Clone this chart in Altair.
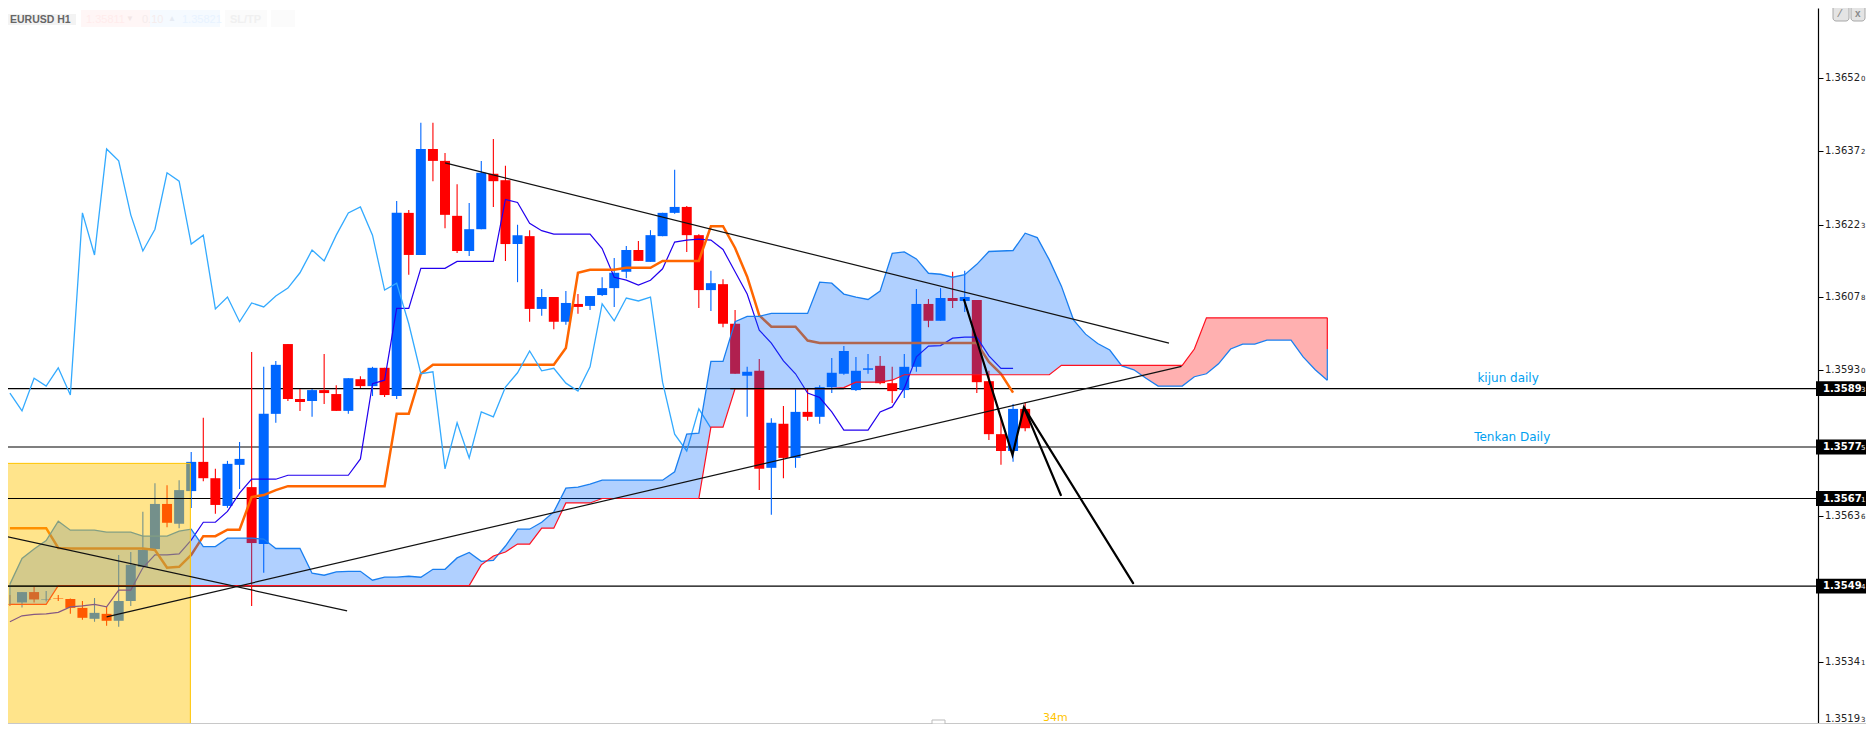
import altair as alt
import pandas as pd

# All price series are in points above 1.00000 (36520 = 1.36520)
opens = [35458,35461,35482,35466,35470,35468,35450,35428,35438,35424,35464,35533,35569,35660,35620,35686,35745,35712,35656,35739,35694,35579,35842,35983,35872,35868,35890,35882,35848,35912,35898,35935,35878,36248,36163,36377,36353,36242,36171,36215,36327,36314,36185,36201,36054,36078,36028,36064,36060,36082,36096,36129,36173,36149,36201,36248,36260,36203,36092,36104,36024,35919,35929,35733,35822,35753,35846,35836,35896,35923,35890,35931,35939,35904,35890,35937,36064,36030,36076,36070,36072,35908,35801,35767,35852]
highs = [35476,35482,35492,35484,35476,35469,35464,35470,35452,35557,35563,35644,35702,35698,35708,35765,35834,35731,35747,35785,35967,35937,35949,35983,35892,35892,35963,35900,35914,35918,35937,35935,36272,36254,36430,36430,36369,36306,36268,36353,36397,36343,36224,36213,36094,36078,36090,36084,36080,36118,36157,36181,36191,36213,36248,36335,36262,36205,36131,36114,36052,35937,35953,35833,35858,35892,35892,35900,35955,35979,35957,35963,35959,35937,35963,36094,36074,36096,36129,36131,36072,35929,35836,35862,35866]
lows = [35454,35451,35461,35463,35464,35438,35426,35422,35414,35412,35454,35533,35569,35613,35611,35652,35706,35640,35652,35690,35454,35521,35824,35868,35848,35836,35862,35848,35842,35894,35878,35876,35872,36123,36163,36312,36217,36167,36161,36215,36260,36151,36108,36028,36040,36013,36022,36044,36052,36080,36058,36116,36151,36149,36201,36246,36169,36056,36050,36017,35923,35836,35688,35638,35712,35733,35828,35822,35884,35921,35888,35923,35902,35864,35874,35927,36017,36030,36056,36048,35884,35789,35739,35745,35807]
closes = [35457,35482,35467,35467,35469,35450,35430,35440,35424,35464,35537,35567,35660,35622,35688,35745,35712,35658,35741,35751,35581,35842,35941,35872,35866,35890,35884,35848,35914,35898,35935,35880,36248,36163,36377,36353,36244,36171,36215,36329,36312,36185,36203,36054,36078,36028,36066,36058,36080,36096,36127,36173,36151,36203,36248,36260,36203,36092,36106,36024,35923,35927,35731,35824,35753,35846,35836,35896,35925,35969,35929,35934,35904,35888,35937,36064,36030,36076,36070,36078,35906,35801,35767,35852,35813]

tenkan = [35422,35434,35437,35438,35441,35452,35454,35457,35452,35486,35486,35531,35557,35557,35559,35587,35623,35623,35645,35682,35710,35710,35710,35718,35718,35718,35718,35718,35718,35751,35903,35910,36055,36055,36136,36136,36136,36150,36150,36150,36150,36275,36269,36227,36212,36205,36205,36205,36205,36176,36118,36112,36102,36112,36135,36189,36193,36195,36193,36174,36129,36084,36011,35985,35949,35923,35884,35875,35846,35809,35809,35809,35846,35856,35894,35957,35979,35980,35995,35997,35997,35959,35934,35934]
kijun = [35611,35611,35611,35611,35571,35570,35570,35570,35570,35570,35570,35570,35567,35531,35533,35557,35595,35595,35608,35608,35674,35678,35688,35696,35696,35696,35696,35696,35696,35696,35696,35696,35842,35842,35923,35941,35941,35941,35941,35941,35941,35941,35941,35941,35941,35941,35975,36127,36133,36133,36133,36137,36137,36137,36151,36151,36151,36151,36221,36221,36177,36119,36041,36018,36018,36018,35990,35985,35985,35985,35985,35985,35985,35985,35985,35985,35985,35985,35985,35985,35985,35947,35923,35885]
span_a = [35498,35550,35569,35586,35625,35607,35607,35607,35603,35603,35603,35595,35595,35595,35605,35609,35574,35574,35591,35591,35591,35589,35570,35570,35570,35520,35516,35523,35524,35524,35506,35512,35512,35514,35512,35528,35528,35551,35562,35544,35546,35575,35609,35609,35623,35644,35692,35694,35700,35708,35708,35708,35708,35708,35708,35725,35801,35803,35948,35948,36028,36039,36039,36045,36045,36045,36045,36108,36106,36084,36078,36073,36090,36166,36169,36155,36126,36124,36118,36123,36144,36170,36171,36172,36207,36198,36153,36100,36032,36003,35984,35971,35939,35931,35914,35898,35898,35898,35917,35923,35943,35973,35983,35983,35991,35991,35991,35957,35931,35910]
span_b = [35457,35457,35457,35457,35495,35495,35495,35495,35495,35495,35495,35495,35495,35495,35495,35495,35495,35495,35495,35495,35495,35495,35495,35495,35495,35495,35495,35495,35495,35495,35495,35495,35495,35495,35495,35495,35495,35495,35495,35537,35555,35563,35579,35579,35611,35611,35662,35662,35662,35671,35671,35671,35671,35671,35671,35671,35671,35671,35815,35815,35893,35893,35893,35893,35893,35893,35893,35893,35893,35895,35906,35906,35906,35910,35921,35921,35921,35921,35921,35921,35921,35921,35921,35921,35921,35921,35921,35940,35940,35940,35940,35940,35940,35940,35940,35940,35940,35940,35973,36036,36036,36036,36036,36036,36036,36036,36036,36036,36036,36036]

level_prices = [35893, 35775, 35671, 35494]
tick_prices = [36520, 36372, 36223, 36078, 35930, 35636, 35341, 35193]
tick_label_pos = [36520, 36372, 36223, 36078, 35930, 35636, 35341, 35226]

trend_1 = [(-1.6, 35596), (26.9, 35444)]
trend_2 = [(7.0, 35432), (95.94, 35938)]
trend_3 = [(35.0, 36349), (94.9, 35985)]
wave_1 = [(77.95, 36072), (81.95, 35759), (82.9, 35855), (85.95, 35678)]
wave_2 = [(82.9, 35855), (91.93, 35500)]
zone_x = [-1.3, 13.93]
zone_y = [35742, 35215.5]
flat_span = [58.6, 68.0]

BLUE = "#0066FF"
RED = "#FF0000"


def pr(v):
    return 1 + v / 1e5


xs = alt.Scale(domain=[-1.1585, 148.6], nice=False, zero=False, padding=0)
ys = alt.Scale(domain=[pr(35215.5), pr(36661.84)], nice=False, zero=False, padding=0)
y_axis = alt.Axis(
    orient="right", values=[pr(v) for v in tick_prices[:-1]], labels=False, title=None,
    grid=False, tickColor="#000000", domainColor="#000000", tickSize=5, tickWidth=1, domainWidth=1.2)
X = alt.X("i:Q", scale=xs, axis=None)
Y = alt.Y("p:Q", scale=ys, axis=y_axis, title=None)
Y2 = alt.Y2("p2:Q")


def series(values, start=-1):
    return pd.DataFrame({"i": [start + k for k in range(len(values))], "p": [pr(v) for v in values]})


def segs(points):
    return pd.DataFrame({"i": [a for a, _ in points], "p": [pr(b) for _, b in points]})


candles = pd.DataFrame({
    "i": list(range(-1, 84)),
    "p": [pr(max(o, c)) for o, c in zip(opens, closes)],
    "p2": [pr(min(o, c)) for o, c in zip(opens, closes)],
    "hi": [pr(v) for v in highs],
    "lo": [pr(v) for v in lows],
    "dir": ["up" if c >= o else "down" for o, c in zip(opens, closes)],
})
col = alt.Color("dir:N", scale=alt.Scale(domain=["up", "down"], range=[BLUE, RED]), legend=None)

# cloud with crossing points added so the two colours meet cleanly
rows = []
for k, (a, b) in enumerate(zip(span_a, span_b)):
    rows.append((k - 1.0, a, b))
    if k + 1 < len(span_a):
        a2, b2 = span_a[k + 1], span_b[k + 1]
        if (a - b) * (a2 - b2) < 0:
            t = (a - b) / ((a - b) - (a2 - b2))
            rows.append((k - 1 + t, a + t * (a2 - a), a + t * (a2 - a)))
cloud = pd.DataFrame({
    "i": [r[0] for r in rows],
    "a": [pr(r[1]) for r in rows],
    "b": [pr(r[2]) for r in rows],
    "m": [pr(min(r[1], r[2])) for r in rows],
})

levels = pd.DataFrame({"p": [pr(v) for v in level_prices]})
level_lines = alt.Chart(levels).mark_rule(color="#000000", strokeWidth=1.2).encode(
    y=Y, x=alt.value(-8), x2=alt.value(1810))
level_over_zone = alt.Chart(levels[levels["p"] < pr(zone_y[0])]).mark_rule(color="#000000", strokeWidth=1.2).encode(
    y=Y, x=alt.value(-8), x2=alt.value(183))
level_over_span = alt.Chart(pd.DataFrame({"i": [flat_span[0]], "i2": [flat_span[1]], "p": [pr(level_prices[0])]})).mark_rule(
    color="#000000", strokeWidth=1.2).encode(x=X, x2=alt.X2("i2:Q"), y=Y)

wicks = alt.Chart(candles).mark_rule(strokeWidth=1.1).encode(
    x=X, y=alt.Y("hi:Q", scale=ys, axis=y_axis, title=None), y2=alt.Y2("lo:Q"), color=col)
bodies = alt.Chart(candles).mark_bar(size=10, orient="vertical").encode(x=X, y=Y, y2=Y2, color=col)

line_tenkan = alt.Chart(series(tenkan)).mark_line(color="#2200EE", strokeWidth=1.2).encode(x=X, y=Y)
line_kijun = alt.Chart(series(kijun)).mark_line(color="#FF6600", strokeWidth=2.5).encode(x=X, y=Y)
line_chikou = alt.Chart(series(closes[26:])).mark_line(color="#33AAFF", strokeWidth=1.3).encode(x=X, y=Y)

area_blue = alt.Chart(cloud).mark_area(color=BLUE, opacity=0.31, line=False).encode(
    x=X, y=alt.Y("a:Q", scale=ys, axis=y_axis, title=None), y2=alt.Y2("m:Q"))
area_red = alt.Chart(cloud).mark_area(color=RED, opacity=0.31, line=False).encode(
    x=X, y=alt.Y("b:Q", scale=ys, axis=y_axis, title=None), y2=alt.Y2("m:Q"))
line_a = alt.Chart(series(span_a)).mark_line(color="#1A7FF0", strokeWidth=1.3).encode(x=X, y=Y)
line_b = alt.Chart(series(span_b)).mark_line(color="#FF1020", strokeWidth=1.2).encode(x=X, y=Y)
edges = pd.DataFrame({"i": [-1, 108, 108], "p": [pr(span_a[0]), pr(span_b[-1]), pr((span_a[-1] + span_b[-1]) / 2)],
                      "p2": [pr(span_b[0]), pr((span_a[-1] + span_b[-1]) / 2), pr(span_a[-1])],
                      "c": ["#1A7FF0", "#FF1020", "#1A7FF0"]})
cloud_edges = alt.Chart(edges).mark_rule(strokeWidth=1.2).encode(x=X, y=Y, y2=Y2, color=alt.Color("c:N", scale=None, legend=None))

zone = alt.Chart(pd.DataFrame({"i": [zone_x[0]], "i2": [zone_x[1]], "p": [pr(zone_y[0])], "p2": [pr(zone_y[1])]})).mark_rect(
    fill="#FFC400", fillOpacity=0.455, stroke="#FFC400", strokeWidth=1).encode(x=X, x2=alt.X2("i2:Q"), y=Y, y2=Y2)

trends = [alt.Chart(segs(t)).mark_line(color="#111111", strokeWidth=1.2).encode(x=X, y=Y) for t in (trend_1, trend_2, trend_3)]
waves = [alt.Chart(segs(t)).mark_line(color="#000000", strokeWidth=2.2, strokeCap="round").encode(x=X, y=Y) for t in (wave_1, wave_2)]

# right-hand price scale text
tick_df = pd.DataFrame({
    "p": [pr(v) for v in tick_label_pos],
    "main": [f"{pr(v):.5f}"[:-1] for v in tick_prices],
    "last": [f"{pr(v):.5f}"[-1] for v in tick_prices],
})
tick_main = alt.Chart(tick_df).mark_text(align="left", baseline="middle", font="DejaVu Sans", fontSize=10, color="#222222").encode(
    y=Y, x=alt.value(1817), text="main:N")
tick_last = alt.Chart(tick_df).mark_text(align="left", baseline="middle", font="DejaVu Sans", fontSize=7, dy=1, color="#222222").encode(
    y=Y, x=alt.value(1853), text="last:N")

box_df = pd.DataFrame({
    "p": [pr(v + 15) for v in level_prices],
    "p2": [pr(v - 15) for v in level_prices],
    "c": [pr(v) for v in level_prices],
    "main": [f"{pr(v):.5f}"[:-1] for v in level_prices],
    "last": [f"{pr(v):.5f}"[-1] for v in level_prices],
})
box_rect = alt.Chart(box_df).mark_rect(color="#000000").encode(y=Y, y2=Y2, x=alt.value(1808), x2=alt.value(1858))
Yc = alt.Y("c:Q", scale=ys, axis=y_axis, title=None)
box_main = alt.Chart(box_df).mark_text(align="left", baseline="middle", font="DejaVu Sans", fontWeight="bold", fontSize=10, color="#FFFFFF").encode(
    y=Yc, x=alt.value(1815), text="main:N")
box_last = alt.Chart(box_df).mark_text(align="left", baseline="middle", font="DejaVu Sans", fontSize=7, dy=1, color="#FFFFFF").encode(
    y=Yc, x=alt.value(1853), text="last:N")

notes = pd.DataFrame({"i": [122.96, 123.3], "p": [pr(35914), pr(35796)], "t": ["kijun daily", "Tenkan Daily"]})
note_text = alt.Chart(notes).mark_text(font="DejaVu Sans", fontSize=12, color="#00A0F0", baseline="middle").encode(x=X, y=Y, text="t:N")

one = pd.DataFrame({"a": [0]})


def box(x0, x1, y0, y1, **kw):
    return alt.Chart(one).mark_rect(**kw).encode(
        x=alt.value(x0 - 8), x2=alt.value(x1 - 8), y=alt.value(y0 - 8), y2=alt.value(y1 - 8))


def label(text, px, py, **kw):
    style = dict(baseline="middle", align="left", font="Liberation Sans", fontSize=10)
    style.update(kw)
    return alt.Chart(pd.DataFrame({"t": [text]})).mark_text(**style).encode(
        x=alt.value(px - 8), y=alt.value(py - 8), text="t:N")


chrome = [
    box(8, 76, 14, 25, fill="#F3F3F3"),
    label("EURUSD H1", 10, 20, fontSize=10.5, fontWeight="bold", color="#666666"),
    box(81, 150, 10, 27, fill="#FFF6F6"),
    box(150, 220, 10, 27, fill="#F5FAFF"),
    label("1.35811", 86, 20, fontSize=11, color="#FFECEC"),
    label("▼", 126, 19, fontSize=8, color="#F3E6E6"),
    label("0.10", 142, 20, fontSize=11, color="#F5ECEC"),
    label("▲", 168, 19, fontSize=8, color="#E6EBF3"),
    label("1.35821", 182, 20, fontSize=11, color="#E8F3FF"),
    box(225, 267, 10, 27, fill="#FBFBFB"),
    label("SL/TP", 230, 20, fontSize=11, fontWeight="bold", color="#F0F0F0"),
    box(271, 295, 10, 27, fill="#FBFBFB"),
    box(1833, 1849, 5, 21, fill="#E4E4E4", stroke="#A8A8A8", cornerRadius=3),
    box(1851, 1865, 5, 21, fill="#E4E4E4", stroke="#A8A8A8", cornerRadius=3),
    label("⁄", 1839, 14, fontSize=10, fontWeight="bold", color="#8A8A8A"),
    label("x", 1855, 14, fontSize=10, fontWeight="bold", color="#8A8A8A"),
    label("34m", 1043, 718, fontSize=11, font="DejaVu Sans", color="#FFC400"),
    box(8, 1866, 723, 725, fill="#C8C8C8"),
    box(932, 945, 720, 724, fill="#FFFFFF", stroke="#BBBBBB"),
]

chart = alt.layer(
    level_lines, wicks, bodies, line_tenkan, line_kijun, line_chikou,
    area_blue, area_red, line_a, line_b, cloud_edges, level_over_span, zone, level_over_zone,
    *trends, *waves, box_rect, box_main, box_last, tick_main, tick_last, note_text, *chrome,
).properties(
    width=1810, height=716,
    background="#FFFFFF",
    padding={"left": 0, "top": 0, "right": 48, "bottom": 0},
    autosize=alt.AutoSizeParams(type="none"),
).configure_view(stroke=None)

chart.save("out.html", embed_options={"renderer": "svg", "actions": False})
